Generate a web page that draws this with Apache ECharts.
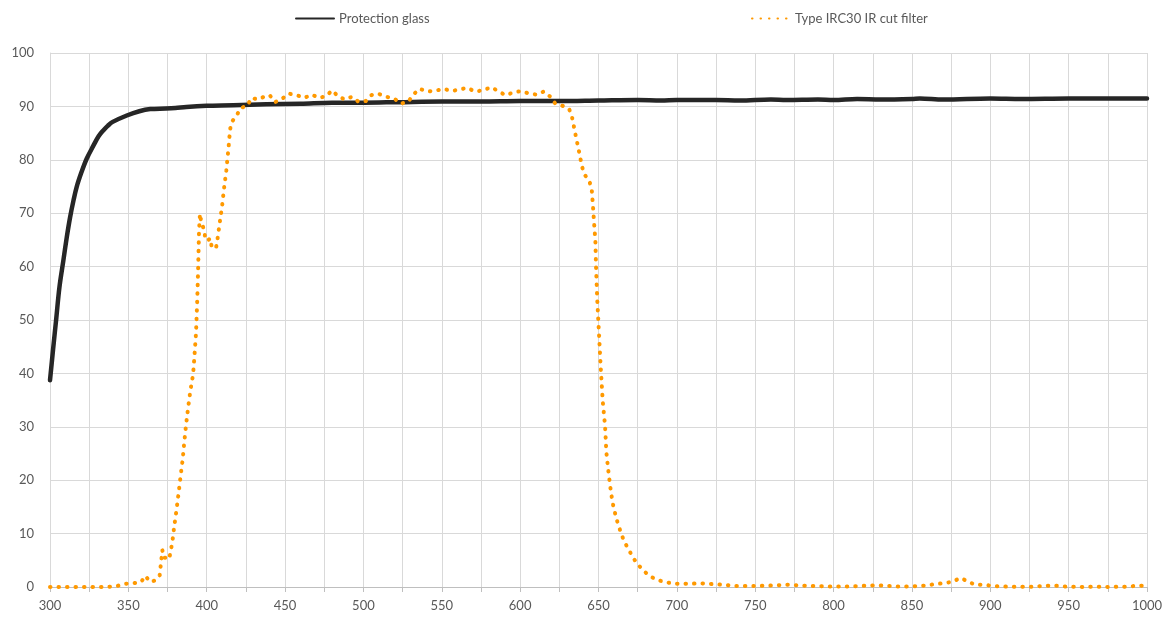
<!DOCTYPE html>
<html>
<head>
<meta charset="utf-8">
<script src="https://cdn.jsdelivr.net/npm/echarts@6/dist/echarts.min.js"></script>
<style>
  html, body { margin: 0; padding: 0; background: #fff; }
  #chart { width: 1173px; height: 617px; }
</style>
</head>
<body>
<div id="chart"></div>
<script>
// Protection glass transmission (%)
const glassWl = [300, 302, 304, 306, 308.5, 310.7, 312.8, 315, 317, 320, 323.4, 327.6, 331, 334, 337, 340, 349, 357, 364, 374, 380, 387, 400, 417, 438, 460, 480, 500, 523, 550, 575, 600, 625, 650, 675, 690, 700, 725, 740, 760, 770, 790, 800, 815, 830, 850, 855, 870, 900, 920, 950, 975, 1000];
const glassT  = [38.7, 44.6, 50.3, 56.1, 61.1, 65.5, 69.2, 72.4, 74.9, 77.6, 80.2, 82.6, 84.4, 85.5, 86.4, 87.1, 88.3, 89.1, 89.5, 89.6, 89.7, 89.9, 90.1, 90.2, 90.4, 90.5, 90.7, 90.7, 90.8, 90.9, 90.9, 91.0, 91.0, 91.1, 91.2, 91.1, 91.2, 91.2, 91.1, 91.3, 91.2, 91.3, 91.2, 91.4, 91.3, 91.4, 91.5, 91.3, 91.5, 91.4, 91.5, 91.5, 91.5];

// Type IRC30 IR cut filter transmission (%)
const filterWl = [300, 305, 310, 315, 320, 325, 330, 335, 340, 343, 348, 353, 358, 361, 363.5, 367, 370, 370.6, 371.7, 372.5, 374, 376, 377, 378, 379.3, 380.8, 382.1, 383.4, 384.7, 385.7, 386.8, 388.1, 389.5, 391.3, 392.1, 393.2, 394, 394.6, 395.1, 395.7, 396.5, 397.4, 398.3, 399.1, 400.6, 402.1, 403.2, 405.9, 406.8, 408.3, 409.8, 411, 412.5, 414, 414.9, 416, 419.1, 421.7, 425.9, 428.5, 432.5, 436.6, 440.2, 443.6, 448, 452.3, 457.4, 462.3, 467, 471.7, 476.1, 480, 483.8, 488.1, 492.7, 496.8, 501.5, 504.9, 509.3, 514.3, 519.6, 524, 528.7, 531.8, 535.7, 540.8, 545.7, 551, 555.9, 561, 566.1, 571.2, 576.3, 581.4, 585.9, 590.6, 595.7, 600.8, 605.5, 610.6, 615.2, 619.3, 622.5, 627.2, 631.3, 633.1, 635.2, 637.4, 639.5, 641.2, 644.2, 645.7, 646.5, 647.2, 648, 648.4, 649.2, 650.3, 651.4, 652.7, 654.2, 655, 656.1, 657.4, 658.9, 661.4, 664.8, 667, 669.5, 672, 675.2, 678.9, 682.9, 687.7, 693, 698.3, 703.6, 709, 714.3, 719.7, 725.2, 730.5, 736, 741.4, 746.7, 752.2, 757.6, 763.1, 768.4, 773.9, 779.3, 784.8, 790.1, 795.7, 801, 806.3, 811.6, 817.1, 822.5, 827.8, 833.3, 838.6, 844.2, 849.4, 854.7, 860.1, 865.4, 870.7, 876.1, 880.9, 885.4, 890.3, 895.6, 901, 906.2, 911.8, 917.1, 922.4, 927.8, 933.2, 938.6, 943.9, 949.5, 954.8, 960.1, 965.6, 970.9, 976.3, 981.8, 987.1, 992.4, 997.7, 1000];
const filterT  = [0, 0, 0, 0, 0, 0, 0, 0, 0.1, 0.2, 0.6, 0.7, 0.9, 2.1, 1.0, 1.2, 2.2, 3.9, 6.9, 5.5, 5.5, 5.2, 6.7, 8.3, 11.4, 14.6, 17.7, 20.9, 24.0, 27.2, 30.3, 33.5, 36.6, 39.8, 42.9, 47.7, 54.1, 60.4, 66.7, 69.9, 68.4, 68.4, 66.9, 65.3, 64.8, 65.3, 63.7, 63.4, 65.0, 68.2, 71.3, 74.5, 78.0, 82.5, 85.7, 87.1, 88.3, 89.7, 90.1, 91.6, 91.3, 91.8, 92.1, 90.8, 91.4, 92.4, 92.1, 91.6, 92.2, 91.6, 91.9, 93.0, 91.9, 91.3, 91.8, 90.9, 91.0, 92.1, 92.4, 91.8, 91.5, 90.5, 90.9, 92.2, 93.3, 92.8, 92.9, 93.3, 92.9, 93.1, 93.5, 92.8, 93.0, 93.6, 92.9, 92.1, 92.6, 92.9, 92.4, 92.2, 92.8, 91.8, 90.5, 90.1, 89.5, 88.0, 84.9, 81.8, 78.7, 77.2, 76.0, 74.4, 71.2, 68.1, 64.9, 60.2, 53.8, 47.5, 41.2, 34.8, 30.1, 25.3, 22.2, 19.0, 15.9, 12.8, 9.7, 8.2, 6.9, 5.5, 4.2, 3.0, 2.0, 1.3, 0.9, 0.6, 0.6, 0.6, 0.7, 0.6, 0.5, 0.4, 0.2, 0.2, 0.2, 0.2, 0.25, 0.3, 0.4, 0.4, 0.25, 0.2, 0.2, 0.1, 0.1, 0.1, 0.1, 0.2, 0.25, 0.3, 0.25, 0.1, 0.1, 0.1, 0.2, 0.3, 0.6, 0.7, 1.0, 1.7, 1.1, 0.4, 0.4, 0.25, 0.1, 0.06, 0.06, 0.06, 0.06, 0.2, 0.25, 0.2, 0.06, 0.06, 0, 0.06, 0.06, 0, 0.06, 0.06, 0.2, 0.25, 0.3];

const xTicks = { min: 300, max: 1000, step: 25, labelStep: 50 };
const yTicks = { min: 0, max: 100, step: 10 };

const font = 'Lato, "Open Sans", sans-serif';
const textColor = '#595959';
const gridColor = '#d9d9d9';

const chart = echarts.init(document.getElementById('chart'), null, { renderer: 'canvas' });

const legendBase = {
  top: 7,
  itemWidth: 38, itemHeight: 10,
  itemStyle: { opacity: 0 },
  textStyle: { color: textColor, fontSize: 13, fontFamily: font },
};

chart.setOption({
  animation: false,
  textStyle: { fontFamily: font },
  legend: [
    Object.assign({ left: 290, data: ['Protection glass'] }, legendBase),
    Object.assign({ left: 746, data: ['Type IRC30 IR cut filter'] }, legendBase),
  ],
  grid: { left: 50, right: 26, top: 53, bottom: 30, containLabel: false },
  xAxis: {
    type: 'value',
    min: xTicks.min, max: xTicks.max, interval: xTicks.step,
    axisLine: { show: true, lineStyle: { color: '#bfbfbf', width: 1 } },
    axisTick: { show: true, length: 5, lineStyle: { color: '#bfbfbf' } },
    axisLabel: {
      color: textColor, fontSize: 13, fontFamily: font, margin: 12,
      formatter: v => (v % xTicks.labelStep === 0 ? String(v) : ''),
    },
    splitLine: { show: true, lineStyle: { color: gridColor, width: 1 } },
  },
  yAxis: {
    type: 'value',
    min: yTicks.min, max: yTicks.max, interval: yTicks.step,
    axisLine: { show: true, lineStyle: { color: gridColor, width: 1 } },
    axisTick: { show: false },
    axisLabel: { color: textColor, fontSize: 13, fontFamily: font, margin: 16 },
    splitLine: { show: true, lineStyle: { color: gridColor, width: 1 } },
  },
  series: [
    {
      name: 'Protection glass',
      type: 'line',
      data: glassWl.map((w, i) => [w, glassT[i]]),
      symbol: 'none',
      smooth: 0.35,
      itemStyle: { color: '#262626' },
      lineStyle: { color: '#262626', width: 4.5, cap: 'round', join: 'round' },
      z: 2,
    },
    {
      name: 'Type IRC30 IR cut filter',
      type: 'line',
      data: filterWl.map((w, i) => [w, filterT[i]]),
      symbol: 'none',
      itemStyle: { color: '#ff9900' },
      lineStyle: { color: '#ff9900', width: 4, type: [0.5, 8], cap: 'round', join: 'round' },
      z: 3,
    },
  ],
});
</script>
</body>
</html>
